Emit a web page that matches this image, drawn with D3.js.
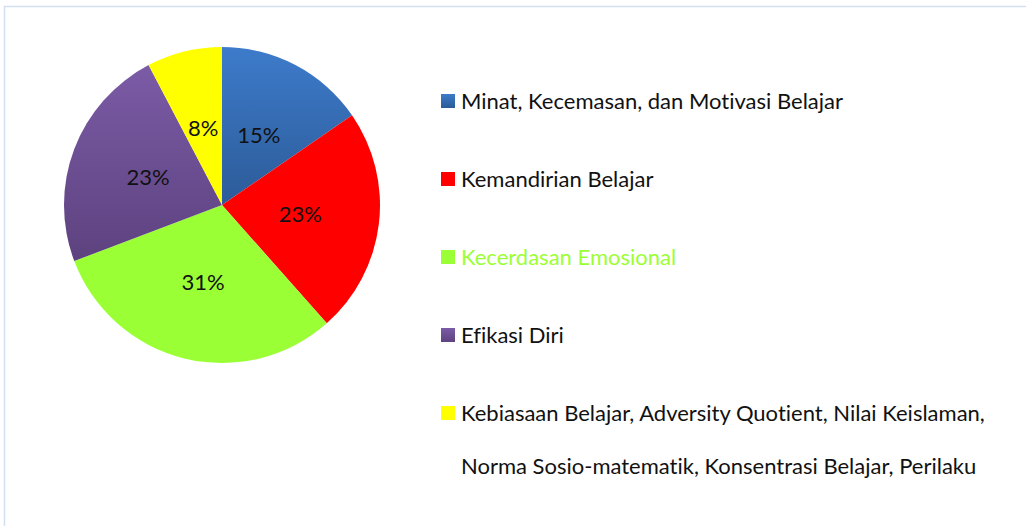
<!DOCTYPE html>
<html>
<head>
<meta charset="utf-8">
<script src="https://cdn.jsdelivr.net/npm/d3@7"></script>
<style>
  body { margin: 0; background: #fff; }
  svg { display: block; }
  text { font-family: Lato, "Open Sans", sans-serif; font-variant-ligatures: none; }
</style>
</head>
<body>
<div id="chart"></div>
<script>
// data: counts of studies per category (2/3/4/3/1 of 13)
var categories = ["Minat, Kecemasan, dan Motivasi Belajar", "Kemandirian Belajar", "Kecerdasan Emosional", "Efikasi Diri", "Kebiasaan Belajar, Adversity Quotient, Nilai Keislaman,"];
var extraLine = "Norma Sosio-matematik, Konsentrasi Belajar, Perilaku";
var counts = [2, 3, 4, 3, 1];
var colors = ["#3d7bcb", "#ff0000", "#9bff35", "#7b5ba6", "#ffff00"];
var gradEnds = ["#2c5b98", "#ff0000", "#9bff35", "#5d427f", "#ffff00"];
var legendTextColors = ["#111", "#111", "#9bff35", "#111", "#111"];

var width = 1026, height = 526;

var svg = d3.select("#chart").append("svg")
    .attr("width", width)
    .attr("height", height);

// outer frame
svg.append("rect")
    .attr("x", 4.5).attr("y", 6.5)
    .attr("width", width + 10).attr("height", height + 10)
    .style("fill", "#fff")
    .style("stroke", "#d3e0ef")
    .style("stroke-width", 1.5);

var defs = svg.append("defs");
colors.forEach(function (c, i) {
    var g = defs.append("linearGradient")
        .attr("id", "grad" + i)
        .attr("x1", 0).attr("y1", 0).attr("x2", 0).attr("y2", 1);
    g.append("stop").attr("offset", "0%").attr("stop-color", c);
    g.append("stop").attr("offset", "100%").attr("stop-color", gradEnds[i]);
});

var cx = 222, cy = 205, r = 158;
var total = d3.sum(counts);

var pie = d3.pie().sort(null).value(function (d) { return d; });
var arc = d3.arc().innerRadius(0).outerRadius(r);
var labelArc = d3.arc().innerRadius(r * 0.5).outerRadius(r * 0.5);

var g = svg.append("g")
    .attr("transform", "translate(" + cx + "," + cy + ")");

var slices = g.selectAll("g.slice")
    .data(pie(counts))
    .enter().append("g")
    .attr("class", "slice");

slices.append("path")
    .attr("d", arc)
    .style("fill", function (d, i) { return "url(#grad" + i + ")"; })
    .style("stroke", "none");

slices.append("text")
    .attr("transform", function (d) { return "translate(" + labelArc.centroid(d) + ")"; })
    .attr("text-anchor", "middle")
    .attr("dy", "0.36em")
    .style("font-size", "22px")
    .style("fill", "#111")
    .text(function (d) { return Math.round(d.value / total * 100) + "%"; });

// legend
var legend = svg.append("g")
    .attr("transform", "translate(441,101)");

var items = legend.selectAll("g.item")
    .data(categories)
    .enter().append("g")
    .attr("class", "item")
    .attr("transform", function (d, i) { return "translate(0," + (i * 78) + ")"; });

items.append("rect")
    .attr("x", 0).attr("y", -7)
    .attr("width", 14).attr("height", 14)
    .style("fill", function (d, i) { return "url(#grad" + i + ")"; });

items.append("text")
    .attr("x", 20)
    .attr("dy", "0.35em")
    .style("font-size", "22px")
    .style("fill", function (d, i) { return legendTextColors[i]; })
    .text(function (d) { return d; });

legend.append("text")
    .attr("x", 20)
    .attr("y", 4 * 78 + 53)
    .attr("dy", "0.35em")
    .style("font-size", "22px")
    .style("fill", "#111")
    .text(extraLine);
</script>
</body>
</html>
